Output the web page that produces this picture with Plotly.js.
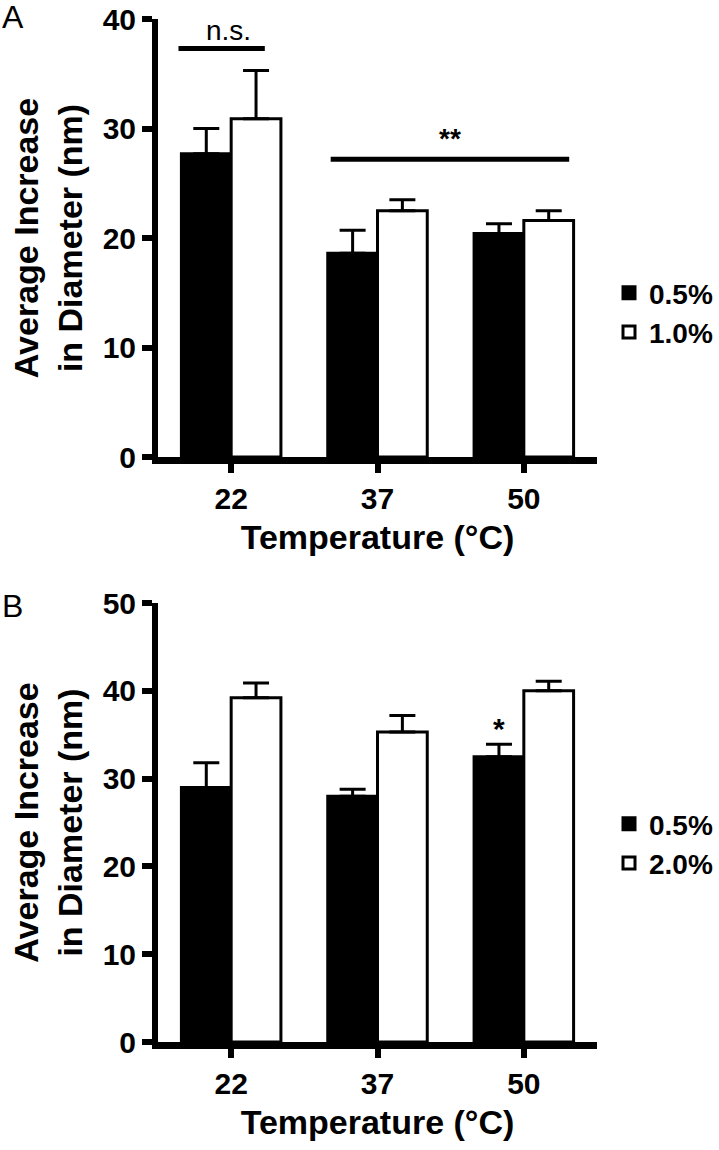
<!DOCTYPE html>
<html>
<head>
<meta charset="utf-8">
<script src="https://cdn.plot.ly/plotly-3.0.1.min.js"></script>
<style>
  html, body { margin: 0; padding: 0; background: #fff; }
  #chart { width: 719px; height: 1150px; }
</style>
</head>
<body>
<div id="chart"></div>
<script>
// ---- data ----
const temps = ['22', '37', '50'];

// Panel A
const A_05 = [27.7, 18.6, 20.4];
const A_05_err = [2.3, 2.1, 0.9];
const A_10 = [30.9, 22.5, 21.6];
const A_10_err = [4.4, 1.0, 0.9];

// Panel B
const B_05 = [29.0, 28.0, 32.5];
const B_05_err = [2.8, 0.8, 1.4];
const B_20 = [39.2, 35.3, 40.0];
const B_20_err = [1.7, 1.9, 1.1];

const noErrBelow = [0, 0, 0];

// significance markers (data coordinates)
const nsLineX = [-0.36, 0.23];
const nsLineY = 37.3;
const nsTextX = -0.02;
const ssLineX = [0.68, 2.31];
const ssLineY = 27.2;
const starB_X = 1.83;
const starB_Y = 33.9;

const yTicksA = [0, 10, 20, 30, 40];
const yTicksB = [0, 10, 20, 30, 40, 50];

// ---- style ----
const FONT = 'Liberation Sans, Arial, Helvetica, sans-serif';
const W = 719, H = 1150;
const px = v => v / W;
const py = v => 1 - v / H;

function barTrace(y, err, fill, name, xa, ya, leg) {
  return {
    type: 'bar', x: temps, y: y, name: name,
    xaxis: xa, yaxis: ya, legend: leg,
    marker: { color: fill, line: { color: '#000', width: 3 } },
    error_y: { type: 'data', array: err, arrayminus: noErrBelow, symmetric: false,
               color: '#000', thickness: 3, width: 13 },
    hoverinfo: 'skip'
  };
}

const data = [
  barTrace(A_05, A_05_err, '#000', '0.5%', 'x', 'y', 'legend'),
  barTrace(A_10, A_10_err, '#fff', '1.0%', 'x', 'y', 'legend'),
  barTrace(B_05, B_05_err, '#000', '0.5%', 'x2', 'y2', 'legend2'),
  barTrace(B_20, B_20_err, '#fff', '2.0%', 'x2', 'y2', 'legend2')
];

const tickFont = { family: FONT, size: 30, color: '#000', weight: 'bold' };
const titleFont = { family: FONT, size: 34, color: '#000', weight: 'bold' };

function xAxis(anchor) {
  return {
    anchor: anchor, type: 'category', range: [-0.5, 2.5],
    domain: [px(158), px(597)],
    showline: true, linecolor: '#000', linewidth: 7,
    ticks: 'outside', ticklen: 9, tickwidth: 6, tickcolor: '#000',
    tickfont: tickFont, showgrid: false, zeroline: false, fixedrange: true,
    title: { text: 'Temperature (°C)', font: titleFont, standoff: 14 }
  };
}
function yAxis(anchor, dom, range, tv) {
  return {
    anchor: anchor, domain: dom, range: range,
    tickmode: 'array', tickvals: tv,
    showline: true, linecolor: '#000', linewidth: 6,
    ticks: 'outside', ticklen: 10, tickwidth: 6, tickcolor: '#000',
    tickfont: tickFont, showgrid: false, zeroline: false, fixedrange: true,
    title: { text: 'Average Increase<br>in Diameter (nm)', font: titleFont, standoff: 12 }
  };
}

const legendBase = {
  xanchor: 'left', yanchor: 'top', x: px(609),
  font: { family: FONT, size: 28, color: '#000', weight: 'bold' },
  bgcolor: 'rgba(0,0,0,0)', borderwidth: 0, itemwidth: 30, tracegroupgap: 0
};

const layout = {
  width: W, height: H,
  margin: { l: 0, r: 0, t: 0, b: 0 },
  paper_bgcolor: '#fff', plot_bgcolor: '#fff',
  bargap: 0.32, bargroupgap: 0, barmode: 'group',
  showlegend: true,
  legend: Object.assign({}, legendBase, { y: py(268) }),
  legend2: Object.assign({}, legendBase, { y: py(799) }),
  xaxis: xAxis('y'),
  yaxis: yAxis('x', [py(457), py(19)], [0, 40], yTicksA),
  xaxis2: xAxis('y2'),
  yaxis2: yAxis('x2', [py(1042), py(603)], [0, 50], yTicksB),
  shapes: [
    { type: 'line', xref: 'x', yref: 'y', x0: nsLineX[0], x1: nsLineX[1], y0: nsLineY, y1: nsLineY,
      line: { color: '#000', width: 5 } },
    { type: 'line', xref: 'x', yref: 'y', x0: ssLineX[0], x1: ssLineX[1], y0: ssLineY, y1: ssLineY,
      line: { color: '#000', width: 5 } }
  ],
  annotations: [
    { xref: 'x', yref: 'y', x: nsTextX, y: nsLineY, yanchor: 'bottom', yshift: 1, showarrow: false,
      text: 'n.s.', font: { family: FONT, size: 28, color: '#000' } },
    { xref: 'x', yref: 'y', x: (ssLineX[0] + ssLineX[1]) / 2, y: ssLineY, yanchor: 'bottom', yshift: 3, showarrow: false,
      text: '**', font: { family: FONT, size: 28, color: '#000', weight: 'bold' } },
    { xref: 'x2', yref: 'y2', x: starB_X, y: starB_Y, yanchor: 'bottom', yshift: -3, showarrow: false,
      text: '*', font: { family: FONT, size: 30, color: '#000', weight: 'bold' } },
    { xref: 'paper', yref: 'paper', x: 0, y: 1, xanchor: 'left', yanchor: 'top', yshift: 3, showarrow: false,
      text: 'A', font: { family: FONT, size: 32, color: '#000' } },
    { xref: 'paper', yref: 'paper', x: 0, y: py(586), xanchor: 'left', yanchor: 'top', showarrow: false,
      text: 'B', font: { family: FONT, size: 32, color: '#000' } }
  ]
};

Plotly.newPlot('chart', data, layout, { staticPlot: true, displayModeBar: false });
</script>
</body>
</html>
